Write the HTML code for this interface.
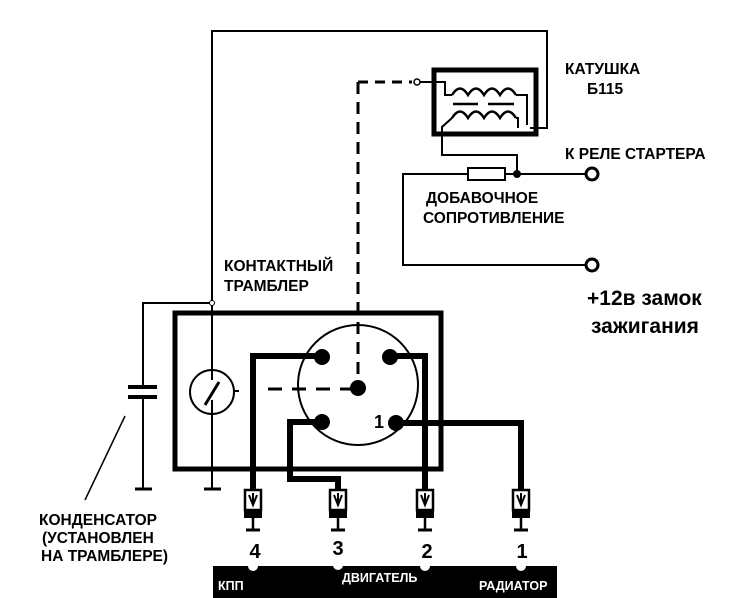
<!DOCTYPE html>
<html><head><meta charset="utf-8"><style>html,body{margin:0;padding:0;background:#fff}svg{display:block}text{font-family:"Liberation Sans",sans-serif;font-weight:bold;fill:#000}</style></head><body>
<svg width="736" height="598" viewBox="0 0 736 598" xmlns="http://www.w3.org/2000/svg">
<g fill="none" stroke="#000" stroke-width="2">
<polyline points="212,303 212,31 547,31 547,128 530,128"/>
<polyline points="212,303 143,303 143,387"/>
<line x1="143" y1="397" x2="143" y2="489"/>
<line x1="85" y1="500" x2="125" y2="416" stroke-width="1.5"/>
<line x1="212" y1="303" x2="212" y2="380"/>
<line x1="212" y1="400" x2="212" y2="489"/>
<circle cx="212" cy="392" r="22"/>
<line x1="234" y1="391" x2="239" y2="391"/>
<line x1="205" y1="405" x2="219" y2="382" stroke-width="3"/>
<circle cx="358" cy="385" r="60"/>
<line x1="358" y1="82" x2="358" y2="385" stroke-width="3" stroke-dasharray="12,8"/>
<line x1="358" y1="82" x2="412" y2="82" stroke-width="3" stroke-dasharray="10,7"/>
<line x1="268" y1="389" x2="358" y2="389" stroke-width="3" stroke-dasharray="14,10"/>
<circle cx="417" cy="82" r="3" stroke-width="1.5"/>
<line x1="420" y1="82" x2="432" y2="82"/>
<polyline points="432,82 445,82 445,95 452,95"/>
<path d="M452,95 q8,-13 16,0 q8,-13 16,0 q8,-13 16,0 q8,-13 16,0" stroke-width="2.5"/>
<polyline points="516,95 527,95 527,125"/>
<line x1="453" y1="104" x2="478" y2="104" stroke-width="2.5"/>
<line x1="488" y1="104" x2="514" y2="104" stroke-width="2.5"/>
<path d="M452,118 q8,-13 16,0 q8,-13 16,0 q8,-13 16,0 q8,-13 16,0" stroke-width="2.5"/>
<polyline points="516,118 518,118 518,128"/>
<polyline points="452,118 442,127 442,155 517,155 517,174"/>
<line x1="505" y1="174" x2="586" y2="174"/>
<polyline points="468,174 403,174 403,265 586,265"/>
</g>
<rect x="434" y="70" width="102" height="64" fill="none" stroke="#000" stroke-width="5"/>
<rect x="468" y="168" width="37" height="12" fill="#fff" stroke="#000" stroke-width="2"/>
<circle cx="517" cy="174" r="4" fill="#000"/>
<circle cx="592" cy="174" r="6" fill="#fff" stroke="#000" stroke-width="3"/>
<circle cx="592" cy="265" r="6" fill="#fff" stroke="#000" stroke-width="3"/>
<circle cx="212" cy="303" r="2.5" fill="#fff" stroke="#000" stroke-width="1"/>
<line x1="128" y1="387" x2="157" y2="387" stroke="#000" stroke-width="4"/>
<line x1="128" y1="397" x2="157" y2="397" stroke="#000" stroke-width="4"/>
<line x1="135" y1="489" x2="152" y2="489" stroke="#000" stroke-width="3"/>
<line x1="204" y1="489" x2="221" y2="489" stroke="#000" stroke-width="3"/>
<rect x="175" y="313" width="266" height="156" fill="none" stroke="#000" stroke-width="5"/>
<g fill="none" stroke="#000" stroke-width="6">
<polyline points="320,356 253,356 253,490"/>
<polyline points="390,356 425,356 425,490"/>
<polyline points="320,422 290,422 290,479 338,479 338,490"/>
<polyline points="395,423 521,423 521,490"/>
</g>
<g fill="#000">
<circle cx="322" cy="357" r="8"/><circle cx="390" cy="357" r="8"/>
<circle cx="322" cy="422" r="8"/><circle cx="396" cy="423" r="8"/>
<circle cx="358" cy="388" r="8"/>
</g>
<text x="374" y="428" font-size="18">1</text>
<g>
<g transform="translate(253,0)"><rect x="-8" y="490" width="16" height="20" fill="#fff" stroke="#000" stroke-width="2.5"/><path d="M-4,495 L0,505 L4,495 M0,493 L0,505" stroke="#000" stroke-width="2" fill="none"/><rect x="-9" y="510" width="18" height="8" fill="#000"/><line x1="0" y1="518" x2="0" y2="530" stroke="#000" stroke-width="2.5"/><line x1="-7" y1="530" x2="7" y2="530" stroke="#000" stroke-width="3"/></g>
<g transform="translate(338,0)"><rect x="-8" y="490" width="16" height="20" fill="#fff" stroke="#000" stroke-width="2.5"/><path d="M-4,495 L0,505 L4,495 M0,493 L0,505" stroke="#000" stroke-width="2" fill="none"/><rect x="-9" y="510" width="18" height="8" fill="#000"/><line x1="0" y1="518" x2="0" y2="530" stroke="#000" stroke-width="2.5"/><line x1="-7" y1="530" x2="7" y2="530" stroke="#000" stroke-width="3"/></g>
<g transform="translate(425,0)"><rect x="-8" y="490" width="16" height="20" fill="#fff" stroke="#000" stroke-width="2.5"/><path d="M-4,495 L0,505 L4,495 M0,493 L0,505" stroke="#000" stroke-width="2" fill="none"/><rect x="-9" y="510" width="18" height="8" fill="#000"/><line x1="0" y1="518" x2="0" y2="530" stroke="#000" stroke-width="2.5"/><line x1="-7" y1="530" x2="7" y2="530" stroke="#000" stroke-width="3"/></g>
<g transform="translate(521,0)"><rect x="-8" y="490" width="16" height="20" fill="#fff" stroke="#000" stroke-width="2.5"/><path d="M-4,495 L0,505 L4,495 M0,493 L0,505" stroke="#000" stroke-width="2" fill="none"/><rect x="-9" y="510" width="18" height="8" fill="#000"/><line x1="0" y1="518" x2="0" y2="530" stroke="#000" stroke-width="2.5"/><line x1="-7" y1="530" x2="7" y2="530" stroke="#000" stroke-width="3"/></g>
</g>
<g font-size="20" text-anchor="middle">
<text x="255" y="558">4</text><text x="338" y="555">3</text><text x="427" y="558">2</text><text x="522" y="558">1</text>
</g>
<rect x="213" y="566" width="344" height="32" fill="#000"/>
<g fill="#fff"><circle cx="253" cy="566" r="5"/><circle cx="338" cy="565" r="5"/><circle cx="425" cy="566" r="5"/><circle cx="521" cy="566" r="5"/></g>
<g font-size="12.5">
<text x="218" y="590" style="fill:#fff">КПП</text>
<text x="342" y="582" style="fill:#fff">ДВИГАТЕЛЬ</text>
<text x="479" y="590" style="fill:#fff">РАДИАТОР</text>
</g>
<g font-size="15.5">
<text x="565" y="74">КАТУШКА</text>
<text x="587" y="94">Б115</text>
<text x="565" y="159">К РЕЛЕ СТАРТЕРА</text>
<text x="426" y="203">ДОБАВОЧНОЕ</text>
<text x="423" y="223">СОПРОТИВЛЕНИЕ</text>
<text x="224" y="271">КОНТАКТНЫЙ</text>
<text x="224" y="291">ТРАМБЛЕР</text>
<text x="39" y="525">КОНДЕНСАТОР</text>
<text x="42" y="543">(УСТАНОВЛЕН</text>
<text x="41" y="561">НА ТРАМБЛЕРЕ)</text>
</g>
<g font-size="21">
<text x="587" y="305">+12в замок</text>
<text x="591" y="333">зажигания</text>
</g>
</svg>
</body></html>
